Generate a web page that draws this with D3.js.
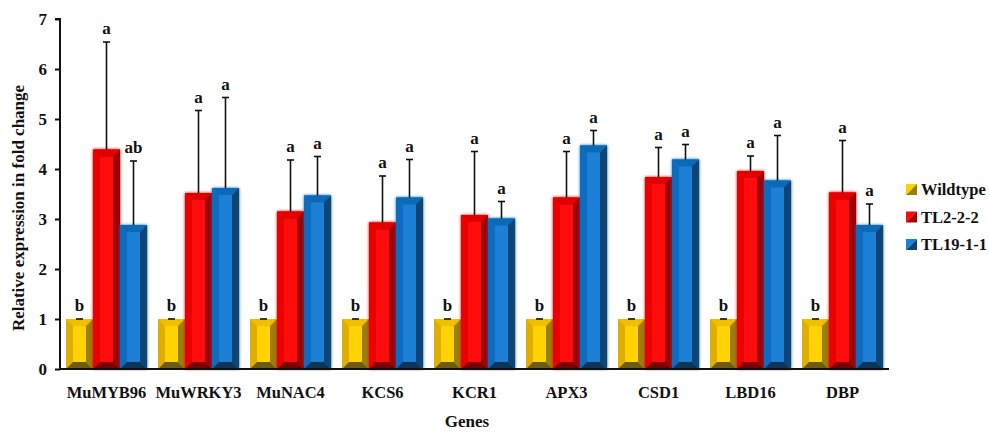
<!DOCTYPE html>
<html>
<head>
<meta charset="utf-8">
<script src="https://cdn.jsdelivr.net/npm/d3@7"></script>
<style>
  body { margin: 0; background: #fff; }
  svg text { font-family: "Liberation Serif", "Times New Roman", serif; font-weight: bold; fill: #111; }
</style>
</head>
<body>
<div class="fold-chart"></div>
<script>
const genes = ["MuMYB96", "MuWRKY3", "MuNAC4", "KCS6", "KCR1", "APX3", "CSD1", "LBD16", "DBP"];
const seriesNames = ["Wildtype", "TL2-2-2", "TL19-1-1"];

const wildtypeMean = [1, 1, 1, 1, 1, 1, 1, 1, 1];
const wildtypeErr  = [0, 0, 0, 0, 0, 0, 0, 0, 0];
const tl222Mean = [4.39, 3.52, 3.15, 2.93, 3.08, 3.43, 3.84, 3.96, 3.53];
const tl222Err  = [2.15, 1.65, 1.03, 0.93, 1.27, 0.92, 0.59, 0.30, 1.04];
const tl1911Mean = [2.88, 3.62, 3.47, 3.43, 3.01, 4.47, 4.19, 3.77, 2.88];
const tl1911Err  = [1.28, 1.81, 0.78, 0.76, 0.34, 0.30, 0.30, 0.90, 0.42];

const wildtypeLetters = ["b", "b", "b", "b", "b", "b", "b", "b", "b"];
const tl222Letters = ["a", "a", "a", "a", "a", "a", "a", "a", "a"];
const tl1911Letters = ["ab", "a", "a", "a", "a", "a", "a", "a", "a"];

const yTicks = [0, 1, 2, 3, 4, 5, 6, 7];

// face colours per series: centre, top, left, right, bottom
const shades = {
  "Wildtype": { c: "#ffd200", t: "#f0c000", l: "#e0ae00", r: "#9a7f0c", b: "#6e5a10" },
  "TL2-2-2":  { c: "#ff0a0a", t: "#e00000", l: "#ea0000", r: "#a00000", b: "#7a0000" },
  "TL19-1-1": { c: "#1a80d6", t: "#0e68b6", l: "#0a6cc0", r: "#0b4475", b: "#083458" }
};

const W = 989, H = 433;
const x0 = 60, yBase = 369;

const svg = d3.select(".fold-chart").append("svg")
  .attr("width", W).attr("height", H);

const defs = svg.append("defs");
["TL2-2-2", "TL19-1-1"].forEach((s, i) => {
  const f = defs.append("filter").attr("id", "glow" + i)
    .attr("x", "-30%").attr("y", "-5%").attr("width", "160%").attr("height", "110%");
  f.append("feGaussianBlur").attr("in", "SourceGraphic").attr("stdDeviation", 1.6).attr("result", "blur");
  const m = f.append("feMerge");
  m.append("feMergeNode").attr("in", "blur");
  m.append("feMergeNode").attr("in", "SourceGraphic");
});

const x = d3.scaleBand().domain(genes).range([x0, 889]).paddingInner(11 / 92).paddingOuter(6 / 92);
const xs = d3.scaleBand().domain(seriesNames).range([0, x.bandwidth()]);
const y = d3.scaleLinear().domain([0, 7]).range([yBase, 19]);

const rows = [];
genes.forEach((g, i) => {
  rows.push({ gene: g, s: "Wildtype", v: wildtypeMean[i], e: wildtypeErr[i], l: wildtypeLetters[i] });
  rows.push({ gene: g, s: "TL2-2-2", v: tl222Mean[i], e: tl222Err[i], l: tl222Letters[i] });
  rows.push({ gene: g, s: "TL19-1-1", v: tl1911Mean[i], e: tl1911Err[i], l: tl1911Letters[i] });
});

// bevelled bars
const bx = 7, by = 7;
const bars = svg.append("g").selectAll("g.bar").data(rows).enter().append("g")
  .attr("class", "bar")
  .attr("filter", d => d.s === "TL2-2-2" ? "url(#glow0)" : d.s === "TL19-1-1" ? "url(#glow1)" : null);

bars.each(function (d) {
  const g = d3.select(this);
  const L = x(d.gene) + xs(d.s), R = L + xs.bandwidth();
  const T = y(d.v), B = y(0);
  const c = shades[d.s];
  const poly = (pts, fill) => g.append("polygon").attr("points", pts.map(p => p.join(",")).join(" ")).attr("fill", fill);
  g.append("rect").attr("x", L).attr("y", T).attr("width", R - L).attr("height", B - T).attr("fill", c.c);
  poly([[L, T], [R, T], [R - bx, T + by], [L + bx, T + by]], c.t);
  poly([[L, T], [L + bx, T + by], [L + bx, B - by], [L, B]], c.l);
  poly([[R, T], [R, B], [R - bx, B - by], [R - bx, T + by]], c.r);
  poly([[L, B], [L + bx, B - by], [R - bx, B - by], [R, B]], c.b);
});

// error bars
const errG = svg.append("g").attr("stroke", "#111").attr("stroke-width", 1.6);
const cx = d => x(d.gene) + xs(d.s) + xs.bandwidth() / 2;
errG.selectAll("line.v").data(rows.filter(d => d.e > 0)).enter().append("line")
  .attr("x1", cx).attr("x2", cx)
  .attr("y1", d => y(d.v)).attr("y2", d => y(d.v + d.e));
errG.selectAll("line.cap").data(rows).enter().append("line")
  .attr("x1", d => cx(d) - 3.5).attr("x2", d => cx(d) + 3.5)
  .attr("y1", d => y(d.v + d.e)).attr("y2", d => y(d.v + d.e));

// significance letters
svg.append("g").selectAll("text").data(rows).enter().append("text")
  .attr("x", cx)
  .attr("y", d => y(d.v + d.e) - 8)
  .attr("text-anchor", "middle")
  .style("font-size", "17px")
  .text(d => d.l);

// axes
const yAxis = d3.axisLeft(y).tickValues(yTicks).tickSize(5).tickFormat(d3.format("d"));
const ya = svg.append("g").attr("transform", `translate(${x0},0)`).call(yAxis);
ya.select(".domain").attr("stroke", "#111").attr("stroke-width", 2).attr("d", `M-5,${y(7)}H0V${yBase}`);
ya.selectAll(".tick line").attr("stroke", "#111").attr("stroke-width", 2);
ya.selectAll(".tick text").attr("x", -13).style("font-size", "17px")
  .style("font-family", "Liberation Serif, serif").style("font-weight", "bold").attr("fill", "#111");

const xAxis = d3.axisBottom(x).tickSize(0).tickPadding(17);
const xa = svg.append("g").attr("transform", `translate(0,${yBase})`).call(xAxis);
xa.select(".domain").attr("stroke", "#111").attr("stroke-width", 2).attr("d", `M${x0},0H889`);
xa.selectAll(".tick text").style("font-size", "16.5px")
  .style("font-family", "Liberation Serif, serif").style("font-weight", "bold").attr("fill", "#111");

svg.append("text")
  .attr("transform", `translate(24,208) rotate(-90)`)
  .attr("text-anchor", "middle")
  .style("font-size", "17px")
  .text("Relative expression in fold change");

svg.append("text")
  .attr("x", 467).attr("y", 427)
  .attr("text-anchor", "middle")
  .style("font-size", "17px")
  .text("Genes");

// legend
const legend = svg.append("g").selectAll("g").data(seriesNames).enter().append("g")
  .attr("transform", (d, i) => `translate(906,${189 + i * 27.5})`);
legend.append("polygon").attr("points", "0,-5 11,-5 0,6").attr("fill", d => shades[d].c);
legend.append("polygon").attr("points", "11,-5 11,6 0,6").attr("fill", d => shades[d].r);
legend.append("text").attr("x", 15).attr("y", 6).style("font-size", "16.5px").text(d => d);
</script>
</body>
</html>
